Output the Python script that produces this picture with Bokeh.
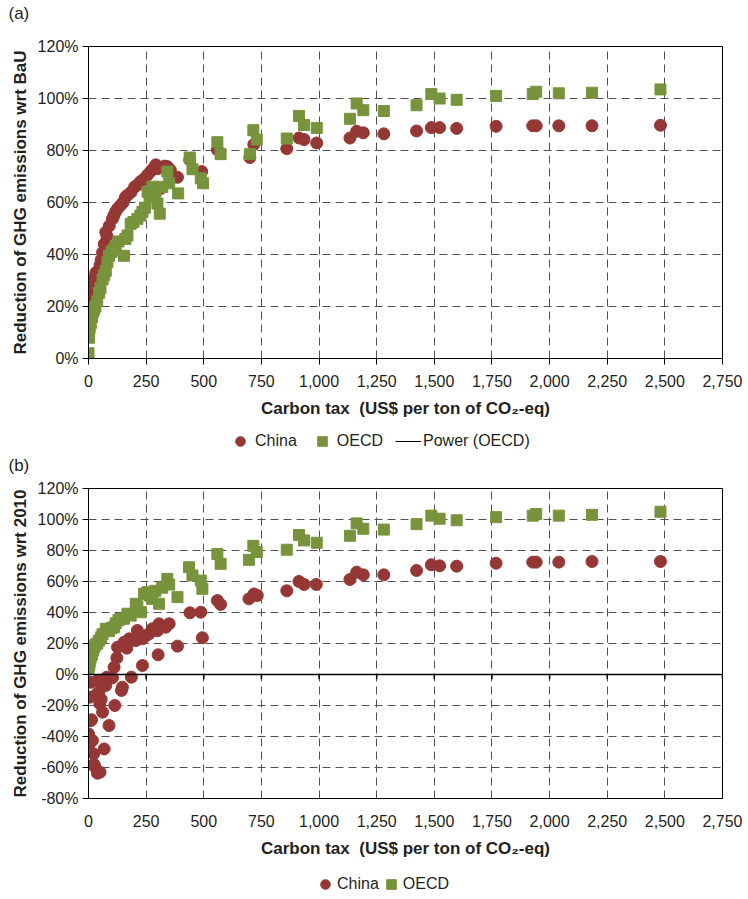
from bokeh.plotting import figure
from bokeh.models import (FixedTicker, PrintfTickFormatter, NumeralTickFormatter,
                          Span, Legend, LegendItem, Range1d, Title)
from bokeh.layouts import column
from bokeh.embed import file_html
from bokeh.resources import INLINE

# ---------------- data ----------------
x_ticks = [0, 250, 500, 750, 1000, 1250, 1500, 1750, 2000, 2250, 2500, 2750]
y_ticks_a = [0, 20, 40, 60, 80, 100, 120]
y_ticks_b = [-80, -60, -40, -20, 0, 20, 40, 60, 80, 100, 120]

# Panel (a): reduction wrt BaU (%)
china_a_x = [0, 2, 3, 5, 8, 12, 17, 20, 25, 32, 40, 50, 55, 61, 68, 75, 80, 90, 104, 110,
             118, 126, 140, 150, 160, 169, 185, 200, 212, 225, 240, 256, 270, 280, 292, 300,
             313, 330, 342, 355, 386, 439, 491, 559, 700, 717, 860, 913, 935, 990, 1134,
             1163, 1192, 1281, 1423, 1487, 1523, 1597, 1768, 1927, 1942, 2040, 2184, 2481]
china_a_y = [8.5, 12, 17.5, 20, 22, 25, 27.9, 30, 31, 33, 33.5, 36, 38, 40.8, 44, 48.6, 47, 51,
             53.7, 55, 56.5, 57.6, 59, 60, 62, 62.8, 64, 66, 66.7, 68, 69, 70.6, 72, 73, 74.5,
             73, 65.4, 74, 73.8, 72.5, 69.7, 76.4, 71.9, 80.3, 77.3, 82.3, 80.7, 84.8, 84.2,
             82.9, 84.8, 87.4, 86.8, 86.4, 87.5, 88.8, 88.8, 88.5, 89.3, 89.5, 89.5, 89.5,
             89.5, 89.7]

oecd_a_x = [0, 2, 3, 5, 10, 15, 20, 24, 30, 38, 46, 52, 61, 68, 75, 82, 89, 100, 110, 118,
            130, 154, 160, 169, 183, 195, 212, 225, 234, 245, 256, 265, 277, 290, 299, 309,
            320, 342, 350, 389, 439, 451, 487, 497, 559, 573, 700, 715, 730, 860, 913, 935,
            990, 1134, 1163, 1192, 1281, 1423, 1487, 1523, 1597, 1768, 1927, 1942, 2040,
            2184, 2481]
oecd_a_y = [2, 8, 11, 12, 13.6, 16, 18, 18.8, 20, 22, 25.3, 27, 30.4, 32, 33.7, 37, 39.5, 41,
            42, 43.4, 45, 39.5, 46, 47.3, 51.8, 52.5, 53.7, 55, 56.4, 58, 64.1, 62, 66.1, 64,
            59.6, 55.7, 66, 71.9, 67.4, 63.5, 77.3, 72.8, 69.3, 67.4, 83.2, 78.6, 78.6, 87.8,
            84.2, 84.6, 93.3, 89.8, 88.7, 92.2, 98.1, 95.5, 95.2, 97.4, 101.7, 100, 99.5, 101,
            101.7, 102.6, 102, 102.2, 103.5]

# Panel (b): reduction wrt 2010 (%)
china_b_x = [0, 3, 7, 10, 10, 13, 17, 22, 24, 27, 36, 39, 39, 45, 49, 50, 55, 61, 68, 75,
             79, 89, 89, 104, 111, 114, 123, 126, 143, 147, 154, 166, 176, 186, 205, 212,
             234, 234, 250, 263, 277, 299, 302, 306, 335, 350, 386, 440, 487, 494, 559, 573,
             696, 718, 732, 860, 913, 935, 988, 1134, 1163, 1192, 1281, 1423, 1487, 1523,
             1597, 1768, 1927, 1942, 2040, 2184, 2481]
china_b_y = [-38.3, -45, -14.6, -5, -29.7, -29.2, -42.6, -51.2, -58, -59.4, -12.5, -3.9, -63.7,
             -11.4, -18.9, -63, -16, -24.3, -48, -7.1, -1.7, -2.8, -32.9, -2.1, 4.7, -20, 10.8,
             17.6, -10.3, -8.2, 20.8, 17, 23, -1.7, 21.9, 28.4, 23, 5.8, 25, 26.3, 29.5, 28.2,
             12.7, 32.7, 30.5, 32.7, 18.3, 39.8, 40.2, 23.7, 47.7, 45.2, 48.8, 52, 51, 54,
             60, 58.1, 58.1, 61.3, 66, 64.3, 64.3, 67.1, 70.8, 70.1, 69.9, 71.8, 72.5, 72.5,
             72.5, 72.9, 72.9]

oecd_b_x = [0, 3, 5, 10, 15, 20, 24, 30, 38, 46, 55, 61, 75, 89, 100, 111, 118, 130, 140,
            154, 169, 183, 205, 212, 227, 241, 256, 265, 277, 290, 306, 320, 342, 350, 386,
            436, 451, 487, 494, 559, 573, 696, 715, 730, 860, 913, 935, 990, 1134, 1163,
            1192, 1281, 1423, 1487, 1523, 1597, 1768, 1927, 1942, 2040, 2184, 2481]
oecd_b_y = [3.7, 5.8, 8, 11.2, 13, 15.5, 17.6, 19, 20, 21.9, 24, 26, 29.5, 28, 30, 30.5, 33,
            35, 35.9, 36, 39.2, 38, 45.6, 44, 40.2, 52.1, 53.1, 51, 48.8, 54, 45.6, 56, 61.7,
            58, 49.9, 69.2, 63.9, 60.6, 55.3, 77.8, 71.4, 74, 83, 79, 80.5, 90, 86.5, 85,
            89.5, 97.5, 94, 93.5, 97, 102.5, 100.5, 99.5, 101.5, 102.5, 103.5, 102.5, 103,
            105]

# ---------------- style ----------------
FONT = "Liberation Sans"
RED = "#953735"
GREEN = "#77933C"
GRID = "#505050"
TXT = "#231f20"
NAN = float("nan")
W = 748


def blank_fig(h):
    f = figure(width=W, height=h, x_range=Range1d(0, 1), y_range=Range1d(0, 1),
               x_axis_location=None, y_axis_location=None,
               min_border_left=0, min_border_right=0, min_border_top=0, min_border_bottom=0,
               output_backend="svg", toolbar_location=None)
    f.grid.visible = False
    f.outline_line_color = None
    f.background_fill_color = "white"
    f.border_fill_color = "white"
    return f


def tag_title(text, standoff):
    return Title(text=text, align="left", offset=-80, standoff=standoff,
                 text_font=FONT, text_font_size="17px", text_font_style="normal",
                 text_color=TXT)


def make_panel(y_lo, y_hi, y_ticks, y_label, height, top, bottom, tick_out, lab_off):
    p = figure(width=W, height=height,
               min_border_left=88, min_border_right=26,
               min_border_top=top, min_border_bottom=bottom,
               x_range=Range1d(0, 2750), y_range=Range1d(y_lo, y_hi),
               output_backend="svg", toolbar_location=None)
    p.outline_line_color = "black"
    p.outline_line_width = 1
    p.background_fill_color = "white"
    p.border_fill_color = "white"

    p.xaxis.ticker = FixedTicker(ticks=x_ticks)
    p.xaxis.formatter = NumeralTickFormatter(format="0,0")
    p.yaxis.ticker = FixedTicker(ticks=y_ticks)
    p.yaxis.formatter = PrintfTickFormatter(format="%d%%")
    for ax in (p.xaxis, p.yaxis):
        ax.axis_line_color = "black"
        ax.major_tick_line_color = "black"
        ax.major_tick_out = 6
        ax.major_tick_in = 0
        ax.minor_tick_line_color = None
        ax.major_label_text_font = FONT
        ax.major_label_text_font_size = "16px"
        ax.major_label_text_color = TXT
        ax.axis_label_text_font = FONT
        ax.axis_label_text_font_size = "17px"
        ax.axis_label_text_font_style = "bold"
        ax.axis_label_text_color = TXT
    p.xaxis.major_tick_out = tick_out
    p.xaxis.major_label_standoff = lab_off
    p.xaxis.axis_label_standoff = 9
    p.yaxis.major_label_standoff = 4
    p.yaxis.axis_label_standoff = 5
    p.xaxis.axis_label = "Carbon tax\u00a0 (US$ per ton of CO\u2082-eq)"
    p.yaxis.axis_label = y_label

    p.xgrid.ticker = FixedTicker(ticks=x_ticks)
    p.ygrid.ticker = FixedTicker(ticks=y_ticks)
    for g in (p.xgrid, p.ygrid):
        g.grid_line_color = GRID
        g.grid_line_dash = "8 5"
        g.grid_line_width = 1
    return p


# ---------------- top strip with "(a)" ----------------
ft = blank_fig(30)
ft.add_layout(tag_title("(a)", 2), "above")

# ---------------- panel (a) ----------------
pa = make_panel(0, 120, y_ticks_a, "Reduction of GHG emissions wrt BaU",
                400, 16, 72, 6, 10)
pa.scatter(china_a_x, china_a_y, marker="circle", size=12,
           fill_color=RED, line_color=RED)
pa.scatter(oecd_a_x, oecd_a_y, marker="square", size=11,
           fill_color=GREEN, line_color=GREEN)

# legend strip for (a), with the "(b)" tag underneath
fla = blank_fig(44)
lca = fla.scatter(x=[NAN], y=[NAN], marker="circle", size=12, fill_color=RED, line_color=RED)
loa = fla.scatter(x=[NAN], y=[NAN], marker="square", size=11, fill_color=GREEN, line_color=GREEN)
lpw = fla.line(x=[NAN], y=[NAN], line_color="black", line_width=1)
leg_a = Legend(items=[LegendItem(label="China", renderers=[lca]),
                      LegendItem(label="OECD", renderers=[loa]),
                      LegendItem(label="Power (OECD)", renderers=[lpw])],
               orientation="horizontal", location=(139, 0),
               glyph_width=26, glyph_height=24, label_standoff=2, spacing=12,
               padding=0, margin=0, border_line_color=None,
               background_fill_alpha=0,
               label_text_font=FONT, label_text_font_size="16px",
               label_text_color=TXT)
fla.add_layout(leg_a)
fla.add_layout(tag_title("(b)", 0), "below")

# ---------------- panel (b) ----------------
pb = make_panel(-80, 120, y_ticks_b, "Reduction of GHG emissions wrt 2010",
                395, 14, 71, 0, 16)
pb.add_layout(Span(location=0, dimension="width", line_color="black", line_width=1.5))
pb.segment(x0=x_ticks, y0=[0] * len(x_ticks), x1=x_ticks, y1=[-3] * len(x_ticks),
           line_color="black", line_width=1.5)
pb.scatter(china_b_x, china_b_y, marker="circle", size=12,
           fill_color=RED, line_color=RED)
pb.scatter(oecd_b_x, oecd_b_y, marker="square", size=11,
           fill_color=GREEN, line_color=GREEN)

# legend strip for (b)
flb = blank_fig(30)
lcb = flb.scatter(x=[NAN], y=[NAN], marker="circle", size=12, fill_color=RED, line_color=RED)
lob = flb.scatter(x=[NAN], y=[NAN], marker="square", size=11, fill_color=GREEN, line_color=GREEN)
leg_b = Legend(items=[LegendItem(label="China", renderers=[lcb]),
                      LegendItem(label="OECD", renderers=[lob])],
               orientation="horizontal", location=(225, 2),
               glyph_width=24, glyph_height=26, label_standoff=0, spacing=0,
               padding=0, margin=0, border_line_color=None,
               background_fill_alpha=0,
               label_text_font=FONT, label_text_font_size="16px",
               label_text_color=TXT)
flb.add_layout(leg_b)

layout = column(ft, pa, fla, pb, flb, spacing=0)
open("out.html", "w").write(file_html(layout, INLINE))
